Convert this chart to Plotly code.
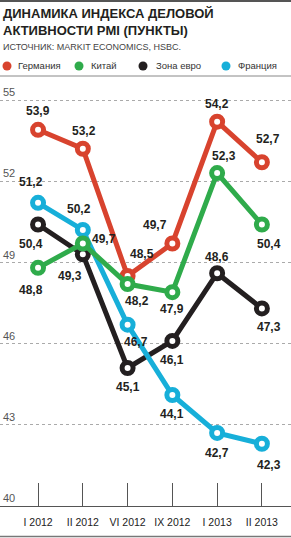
import plotly.graph_objects as go

categories = ["I 2012", "II 2012", "VI 2012", "IX 2012", "I 2013", "II 2013"]
germany = [53.9, 53.2, 48.5, 49.7, 54.2, 52.7]
china = [48.8, 49.7, 48.2, 47.9, 52.3, 50.4]
eurozone = [50.4, 49.3, 45.1, 46.1, 48.6, 47.3]
france = [51.2, 50.2, 46.7, 44.1, 42.7, 42.3]
y_ticks = [40, 43, 46, 49, 52, 55]

title_lines = ["ДИНАМИКА ИНДЕКСА ДЕЛОВОЙ", "АКТИВНОСТИ PMI (ПУНКТЫ)"]
source = "ИСТОЧНИК: MARKIT ECONOMICS, HSBC."

# styling
W, H = 291, 538
T, B = 80, 32
PH = H - T - B

def py(p):
    return (H - B - p) / PH

def px(p):
    return p / W

NARROW = "Liberation Sans Narrow, Arial Narrow, sans-serif"
BOLD = "Liberation Sans, Arial, sans-serif"
DARK = "#231f20"

series = [
    ("Зона евро", eurozone, "#231f20",
     [(-7, 19), (-13, 22), (0, 19), (0, 19), (0, -16), (7, 19)]),
    ("Франция", france, "#17afd9",
     [(-7, -21), (-4, -21), (8, 17), (0, 19), (0, 20), (7, 21)]),
    ("Германия", germany, "#d8432e",
     [(0, -19), (1, -18), (14, -22), (-17, -18), (0, -18), (6, -23)]),
    ("Китай", china, "#2fab4b",
     [(-7, 22), (21, -4), (9, 17), (0, 17), (7, -17), (7, 19)]),
]

xs = list(range(len(categories)))
fig = go.Figure()
annotations = []
for name, vals, color, offs in series:
    fig.add_trace(go.Scatter(
        x=xs, y=vals, mode="lines+markers", name=name,
        line=dict(color=color, width=5),
        marker=dict(symbol="circle", size=11, color="white",
                    line=dict(color=color, width=5)),
        showlegend=False, cliponaxis=False,
    ))
    for i, (v, (dx, dy)) in enumerate(zip(vals, offs)):
        annotations.append(dict(
            x=i, y=v, xref="x", yref="y", showarrow=False,
            text=f"{v:.1f}".replace(".", ","),
            xshift=dx, yshift=-dy,
            font=dict(family=BOLD, size=12, color=DARK, weight="bold"),
        ))

# titles
for txt, yc in zip(title_lines, [13, 30]):
    annotations.append(dict(
        x=px(1), y=py(yc), xref="paper", yref="paper", xanchor="left", yanchor="middle",
        text=txt, showarrow=False,
        font=dict(family=NARROW, size=13, color=DARK, weight="bold"),
    ))
annotations.append(dict(
    x=px(1), y=py(47), xref="paper", yref="paper", xanchor="left", yanchor="middle",
    text=source, showarrow=False, font=dict(family=NARROW, size=9, color="#444"),
))

shapes = []
legend_order = [("Германия", "#d8432e", 7, 16), ("Китай", "#2fab4b", 79, 89),
                ("Зона евро", "#231f20", 143, 154), ("Франция", "#17afd9", 226, 236)]
for name, color, cx, tx in legend_order:
    shapes.append(dict(type="circle", xref="paper", yref="paper",
                       xsizemode="pixel", ysizemode="pixel",
                       xanchor=px(cx), yanchor=py(66),
                       x0=-4.5, x1=4.5, y0=-4.5, y1=4.5,
                       fillcolor=color, line=dict(width=0)))
    annotations.append(dict(
        x=px(tx), y=py(66), xref="paper", yref="paper", xanchor="left", yanchor="middle",
        text=name, showarrow=False, font=dict(family=NARROW, size=9.5, color="#333"),
    ))

# frame lines
shapes.append(dict(type="line", xref="paper", yref="paper", x0=0, x1=1,
                   y0=py(1), y1=py(1), line=dict(color="#555", width=2)))
shapes.append(dict(type="line", xref="paper", yref="paper", x0=0, x1=1,
                   y0=py(76), y1=py(76), line=dict(color="#888", width=1)))
shapes.append(dict(type="line", xref="paper", yref="paper", x0=0, x1=1,
                   y0=py(536.5), y1=py(536.5), line=dict(color="#777", width=1.5)))

fig.update_layout(
    width=W, height=H,
    margin=dict(l=0, r=0, t=T, b=B, pad=0),
    paper_bgcolor="white", plot_bgcolor="white",
    annotations=annotations, shapes=shapes,
    xaxis=dict(
        range=[-0.85, 5.65], tickvals=xs, ticktext=categories,
        ticks="inside", ticklen=23, tickcolor="#555", tickwidth=1,
        showline=True, linecolor="#555", linewidth=1, showgrid=False, zeroline=False,
        tickfont=dict(family=NARROW, size=10.5, color="#222"), fixedrange=True,
        ticklabelstandoff=6,
    ),
    yaxis=dict(
        range=[40, 55.74], tickvals=y_ticks, showgrid=True, griddash="dot",
        gridcolor="#aaa", gridwidth=1, zeroline=False, showline=False,
        ticklabelposition="inside top",
        tickfont=dict(family=NARROW, size=11, color="#555"), fixedrange=True,
    ),
    showlegend=False,
)

fig.write_html("out.html")
